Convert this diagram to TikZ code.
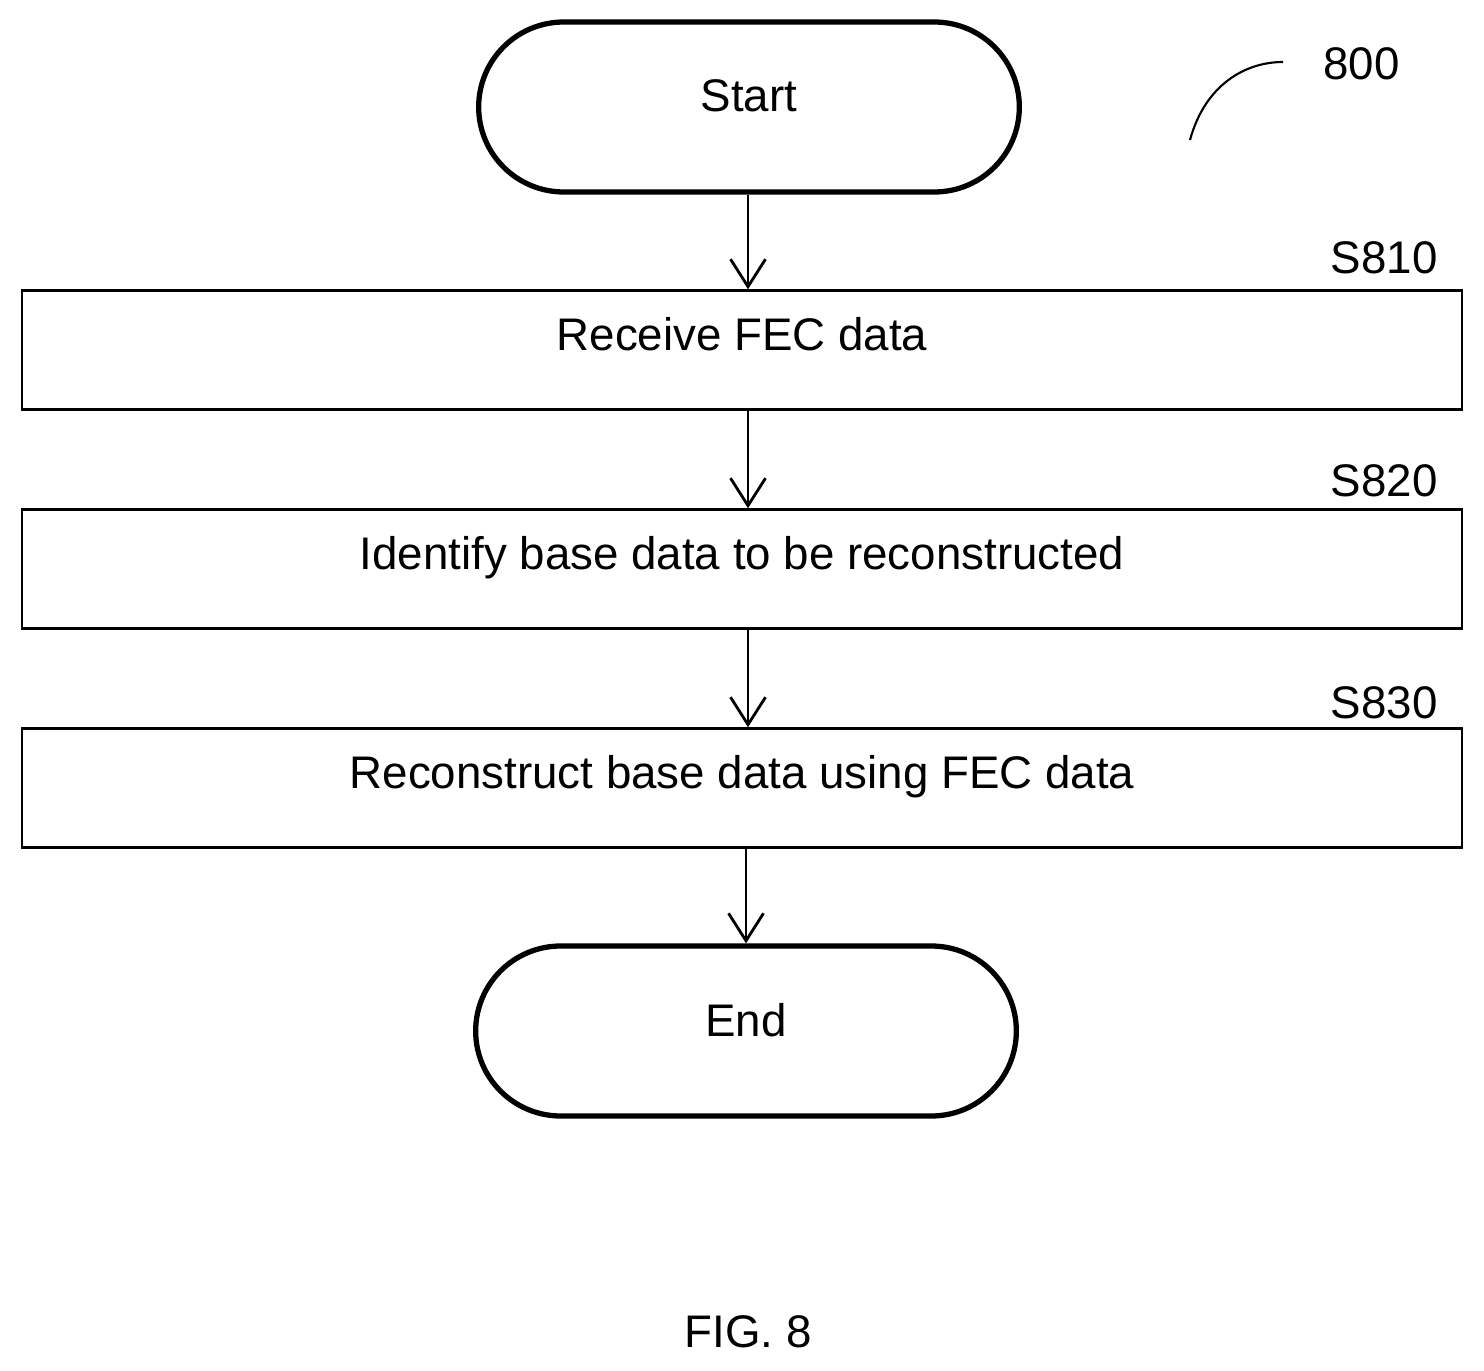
\documentclass[tikz,border=0pt]{standalone}
\usepackage{fontspec}
\setmainfont{Liberation Sans}
\usetikzlibrary{positioning, arrows.meta, shapes.misc}
\tikzstyle{arrow} = [line width=1.6pt,-{Straight Barb[length=5.5mm,width=7mm,line width=1.6pt]}]

\begin{document}
\begin{tikzpicture}[x=0.02cm,y=-0.02cm]
                \tikzstyle{every node}=[font=\fontsize{26}{30}\selectfont]
                \tikzstyle{terminal} = [rounded rectangle, draw=black, line width=3pt, minimum width=11.05cm, minimum height=3.4cm, text depth=0.45cm]
                \tikzstyle{process} = [rectangle, draw=black, line width=1.4pt, minimum width=28.8cm, minimum height=2.38cm, text depth=0.65cm]
                \tikzstyle{tag} = [anchor=east, inner sep=0pt]

                \useasboundingbox (0,0) rectangle (1484,1371);

                \node[terminal](start) at (749,107) {Start};
                \node[process](s810) at (742,350) {Receive FEC data};
                \node[process](s820) at (742,569) {Identify base data to be reconstructed};
                \node[process](s830) at (742,788) {Reconstruct base data using FEC data};
                \node[terminal](end) at (746,1031) {End};

                % step labels
                \node[tag](l810) at (1438,258) {S810};
                \node[tag](l820) at (1438,481) {S820};
                \node[tag](l830) at (1438,703) {S830};
                \node[tag](l800) at (1400,64) {800};
                \coordinate (c800) at (1190,140);
                \draw[line width=1.2pt] (c800) .. controls (1205,85) and (1245,62) .. (1283,62);

                \draw[arrow] (start.south -| 748,0) -- (s810.north -| 748,0);
                \draw[arrow] (s810.south -| 748,0) -- (s820.north -| 748,0);
                \draw[arrow] (s820.south -| 748,0) -- (s830.north -| 748,0);
                \draw[arrow] (s830.south -| 746,0) -- (end.north -| 746,0);

                \node(fig) at (748,1332) {FIG. 8};
\end{tikzpicture}
\end{document}
